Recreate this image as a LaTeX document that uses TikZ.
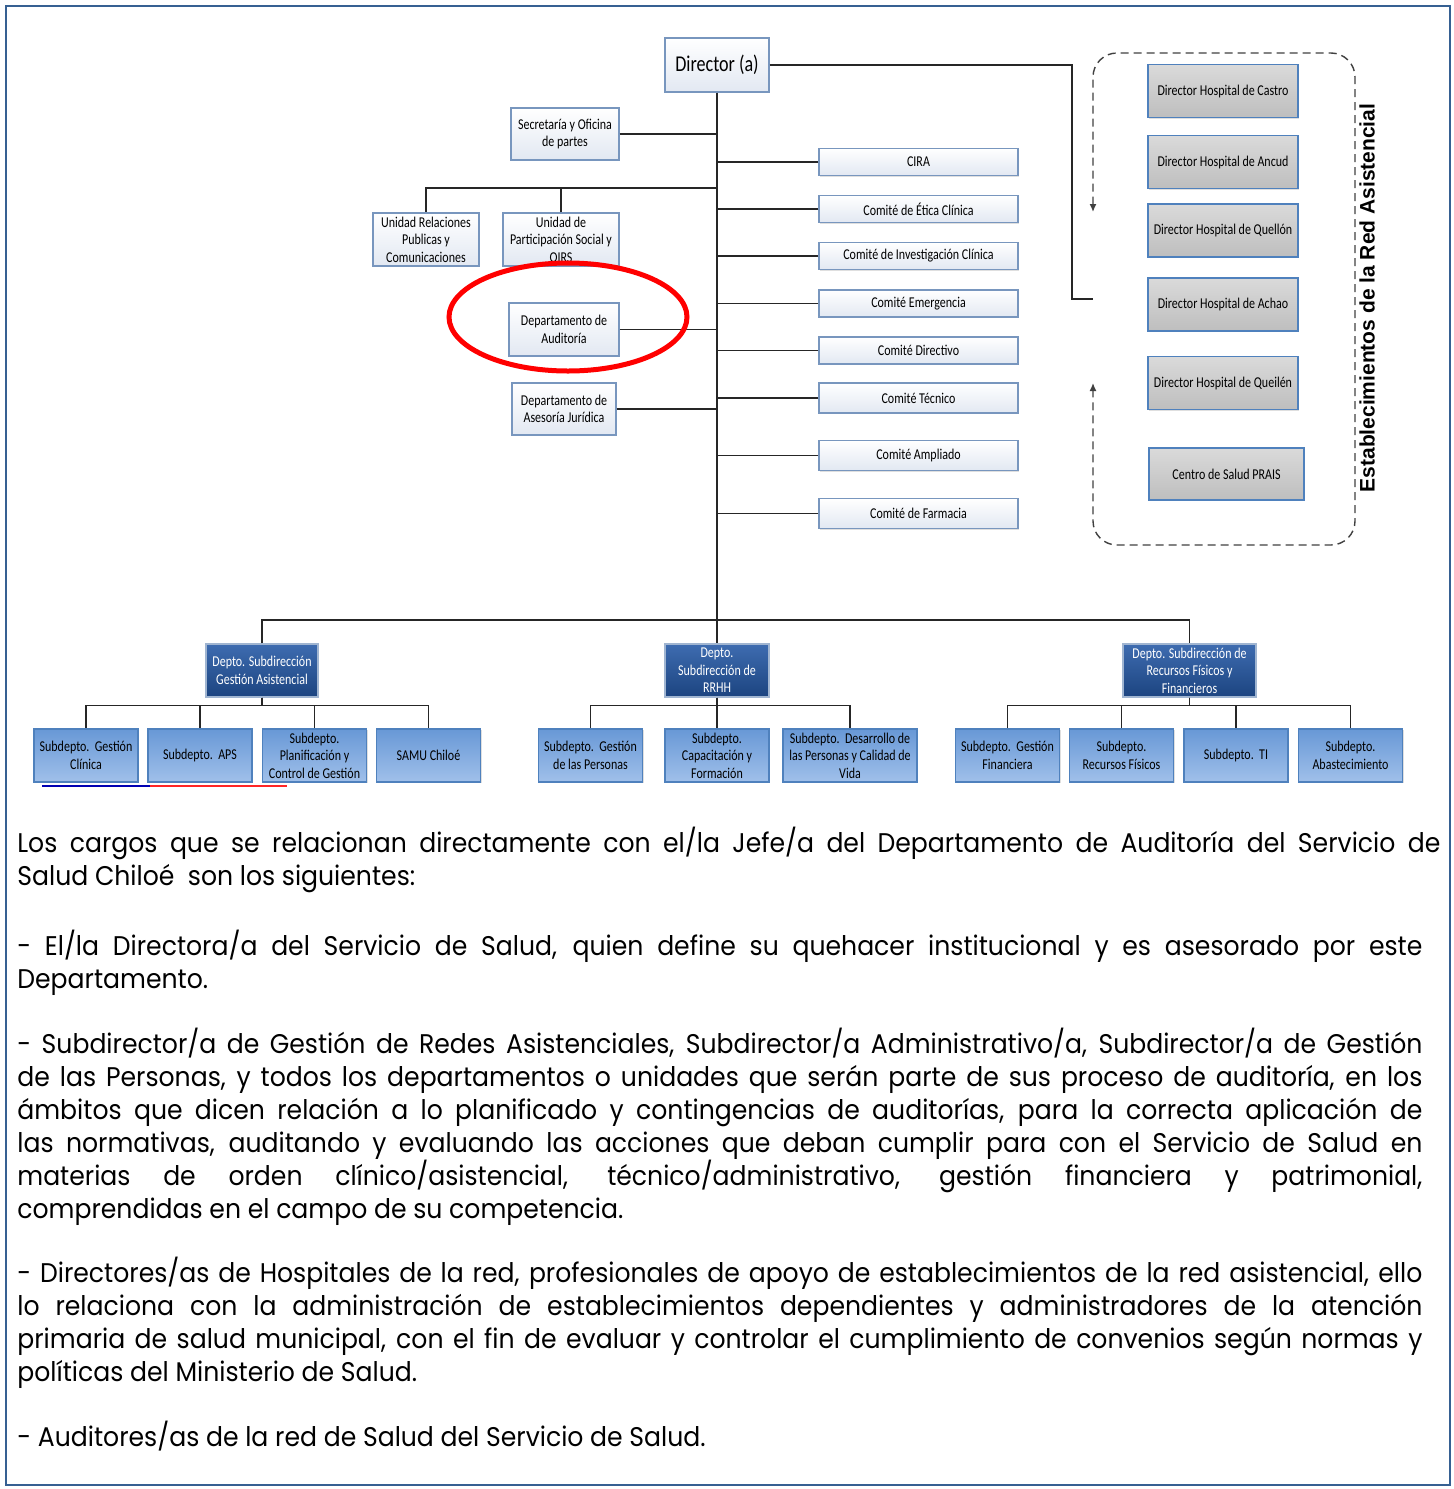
\documentclass[tikz,border=0pt]{standalone}
\usepackage{fontspec}
\setmainfont{Poppins}[FakeStretch=0.93]
\newfontfamily\boxfont{Carlito}[FakeStretch=0.8]
\newfontfamily\sidefont{Liberation Sans}
\usetikzlibrary{
        shadows,
        positioning,
        arrows.meta
    }
\definecolor{framebl}{RGB}{54,96,146}
\definecolor{edgebl}{RGB}{120,150,190}
\definecolor{paleb}{RGB}{226,232,242}
\definecolor{darkbtop}{RGB}{62,108,176}
\definecolor{darkbbot}{RGB}{28,68,128}
\definecolor{midbtop}{RGB}{104,152,214}
\definecolor{midbbot}{RGB}{160,192,234}
\definecolor{greytop}{RGB}{218,218,218}
\definecolor{greybot}{RGB}{190,190,190}
\definecolor{hospedge}{RGB}{79,129,189}

\begin{document}
\begin{tikzpicture}
[x=0.5pt, y=-0.5pt,
base/.style={rectangle, align=center, inner sep=0.5pt, line width=0.6pt, font=\boxfont\fontsize{7.5}{8.7}\selectfont, drop shadow={opacity=0.25, shadow xshift=0.7pt, shadow yshift=-0.7pt}},
whitebox/.style={base, draw=edgebl, top color=white, bottom color=paleb},
combox/.style={whitebox, minimum width=99.5pt, minimum height=13.5pt},
hospbox/.style={base, draw=hospedge, top color=greytop, bottom color=greybot, minimum width=75pt, minimum height=26.5pt},
depbox/.style={base, draw=edgebl!70, top color=darkbtop, bottom color=darkbbot, text=white, minimum height=26.5pt},
subbox/.style={base, draw=hospedge, top color=midbtop, bottom color=midbbot, minimum width=52pt, minimum height=26.5pt},
link/.style={line width=0.75pt, black!85},
loop/.style={line width=0.7pt, black!75, dash pattern=on 4pt off 2.5pt, rounded corners=12pt},
hilite/.style={red, line width=2.5pt},
bodytext/.style={anchor=north west, inner sep=0pt, align=justify, font=\fontsize{13.5}{16.5}\selectfont},
]
\useasboundingbox (0,0) rectangle (1453,1489);
\draw [framebl, line width=1.25pt] (6,6) rectangle (1450,1485);

% upper part
\node (dir) [whitebox, minimum width=52pt, minimum height=27pt, font=\boxfont\fontsize{11.3}{13}\selectfont] at (717,65) {Director (a)};
\node (secre) [whitebox, minimum width=54pt, minimum height=26pt] at (565,134) {Secretaría y Oficina\\de partes};
\node (urp) [whitebox, minimum width=53pt, minimum height=26.5pt] at (426,239.5) {Unidad Relaciones\\Publicas y\\Comunicaciones};
\node (ups) [whitebox, minimum width=58pt, minimum height=26.5pt] at (561,239.5) {Unidad de\\Participación Social y\\OIRS};
\node (audit) [whitebox, minimum width=55pt, minimum height=26.5pt] at (564,329.5) {Departamento de\\Auditoría};
\node (juri) [whitebox, minimum width=52pt, minimum height=26pt] at (564,409) {Departamento de\\Asesoría Jurídica};

\node (cira) [combox] at (918.5,162) {CIRA};
\node (etica) [combox] at (918.5,209) {Comité de Ética Clínica};
\node (invest) [combox] at (918.5,256) {Comité de Investigación Clínica};
\node (emerg) [combox] at (918.5,303.5) {Comité Emergencia};
\node (direct) [combox] at (918.5,350.5) {Comité Directivo};
\node (tecn) [combox, minimum height=15pt] at (918.5,398) {Comité Técnico};
\node (ampl) [combox, minimum height=15pt] at (918.5,455.5) {Comité Ampliado};
\node (farm) [combox, minimum height=15pt] at (918.5,513.5) {Comité de Farmacia};

\node (castro) [hospbox] at (1223,91) {Director Hospital de Castro};
\node (ancud) [hospbox] at (1223,162) {Director Hospital de Ancud};
\node (quellon) [hospbox] at (1223,230.5) {Director Hospital de Quellón};
\node (achao) [hospbox] at (1223,304.5) {Director Hospital de Achao};
\node (queilen) [hospbox] at (1223,383) {Director Hospital de Queilén};
\node (prais) [hospbox, minimum width=77.5pt, minimum height=26pt] at (1226.5,474) {Centro de Salud PRAIS};
\node (redlabel) [rotate=90, inner sep=0pt, font=\sidefont\bfseries\fontsize{10.5}{12}\selectfont] at (1367,298) {Establecimientos de la Red Asistencial};

\coordinate (ujoint) at (717,188);
\coordinate (bend) at (1072,65);
\coordinate (loopin) at (1093,299);

\draw [link] (dir.south) -- (717,644);
\draw [link] (secre.east) -- (secre.east -| dir.south);
\draw [link] (ujoint) -| (urp.north);
\draw [link] (ups.north) -- (ups.north |- ujoint);
\draw [link] (audit.east) -- (audit.east -| dir.south);
\draw [link] (juri.east) -- (juri.east -| dir.south);
\draw [link] (cira.west) -- (cira.west -| dir.south);
\draw [link] (etica.west) -- (etica.west -| dir.south);
\draw [link] (invest.west) -- (invest.west -| dir.south);
\draw [link] (emerg.west) -- (emerg.west -| dir.south);
\draw [link] (direct.west) -- (direct.west -| dir.south);
\draw [link] (tecn.west) -- (tecn.west -| dir.south);
\draw [link] (ampl.west) -- (ampl.west -| dir.south);
\draw [link] (farm.west) -- (farm.west -| dir.south);
\draw [link] (dir.east) -- (bend) |- (loopin);

\draw [loop, {Latex[length=4pt,width=3.5pt]}-{Latex[length=4pt,width=3.5pt]}] (1093,212) -- (1093,53) -- (1355,53) -- (1355,545) -- (1093,545) -- (1093,383);

\draw [hilite] (568,317) ellipse [x radius=119, y radius=54];

% subdirecciones
\node (dga) [depbox, minimum width=56pt] at (262,670.5) {Depto. Subdirección\\Gestión Asistencial};
\node (drh) [depbox, minimum width=52pt] at (717,670.5) {Depto.\\Subdirección de\\RRHH};
\node (drf) [depbox, minimum width=66.5pt] at (1189.5,670.5) {Depto. Subdirección de\\Recursos Físicos y\\Financieros};

\coordinate (hub) at (717,620);
\draw [link] (dga.north) |- (hub) -| (drf.north);

\node (sgc) [subbox] at (86,755.5) {Subdepto.\ \ Gestión\\Clínica};
\node (saps) [subbox] at (200,755.5) {Subdepto.\ \ APS};
\node (spcg) [subbox] at (314.5,755.5) {Subdepto.\\Planificación y\\Control de Gestión};
\node (samu) [subbox] at (428.5,755.5) {SAMU Chiloé};
\node (sgp) [subbox] at (590.5,755.5) {Subdepto.\ \ Gestión\\de las Personas};
\node (scf) [subbox] at (717,755.5) {Subdepto.\\Capacitación y\\Formación};
\node (sdp) [subbox, minimum width=67pt] at (850,755.5) {Subdepto.\ \ Desarrollo de\\las Personas y Calidad de\\Vida};
\node (sgf) [subbox] at (1007.5,755.5) {Subdepto.\ \ Gestión\\Financiera};
\node (srf) [subbox] at (1121.5,755.5) {Subdepto.\\Recursos Físicos};
\node (sti) [subbox] at (1236,755.5) {Subdepto.\ \ TI};
\node (sab) [subbox] at (1350.5,755.5) {Subdepto.\\Abastecimiento};

\draw [link] (dga.south) -- ++(0,8) -| (sgc.north);
\draw [link] (dga.south) -- ++(0,8) -| (saps.north);
\draw [link] (dga.south) -- ++(0,8) -| (spcg.north);
\draw [link] (dga.south) -- ++(0,8) -| (samu.north);
\draw [link] (drh.south) -- ++(0,8) -| (sgp.north);
\draw [link] (drh.south) -- (scf.north);
\draw [link] (drh.south) -- ++(0,8) -| (sdp.north);
\draw [link] (drf.south) -- ++(0,8) -| (sgf.north);
\draw [link] (drf.south) -- ++(0,8) -| (srf.north);
\draw [link] (drf.south) -- ++(0,8) -| (sti.north);
\draw [link] (drf.south) -- ++(0,8) -| (sab.north);

\draw [line width=1pt, blue!70!black] (42,786) -- (150,786);
\draw [line width=1pt, red!85] (150,786) -- (287,786);

% texto
\node (para1) [bodytext, text width=711.5pt] at (17,827) {Los cargos que se relacionan directamente con el/la Jefe/a del Departamento de Auditoría del Servicio de\linebreak Salud Chiloé\ \ son los siguientes:};
\node (para2) [bodytext, text width=702.5pt] at (17,930) {- El/la Directora/a del Servicio de Salud, quien define su quehacer institucional y es asesorado por este\linebreak Departamento.};
\node (para3) [bodytext, text width=702.5pt] at (17,1028) {- Subdirector/a de Gestión de Redes Asistenciales, Subdirector/a Administrativo/a, Subdirector/a de Gestión\linebreak de las Personas, y todos los departamentos o unidades que serán parte de sus proceso de auditoría, en los\linebreak ámbitos que dicen relación a lo planificado y contingencias de auditorías, para la correcta aplicación de\linebreak las normativas, auditando y evaluando las acciones que deban cumplir para con el Servicio de Salud en\linebreak materias de orden clínico/asistencial, técnico/administrativo, gestión financiera y patrimonial,\linebreak comprendidas en el campo de su competencia.};
\node (para4) [bodytext, text width=702.5pt] at (17,1257) {- Directores/as de Hospitales de la red, profesionales de apoyo de establecimientos de la red asistencial, ello\linebreak lo relaciona con la administración de establecimientos dependientes y administradores de la atención\linebreak primaria de salud municipal, con el fin de evaluar y controlar el cumplimiento de convenios según normas y\linebreak políticas del Ministerio de Salud.};
\node (para5) [bodytext, text width=702.5pt] at (17,1421) {- Auditores/as de la red de Salud del Servicio de Salud.};

\end{tikzpicture}
\end{document}
